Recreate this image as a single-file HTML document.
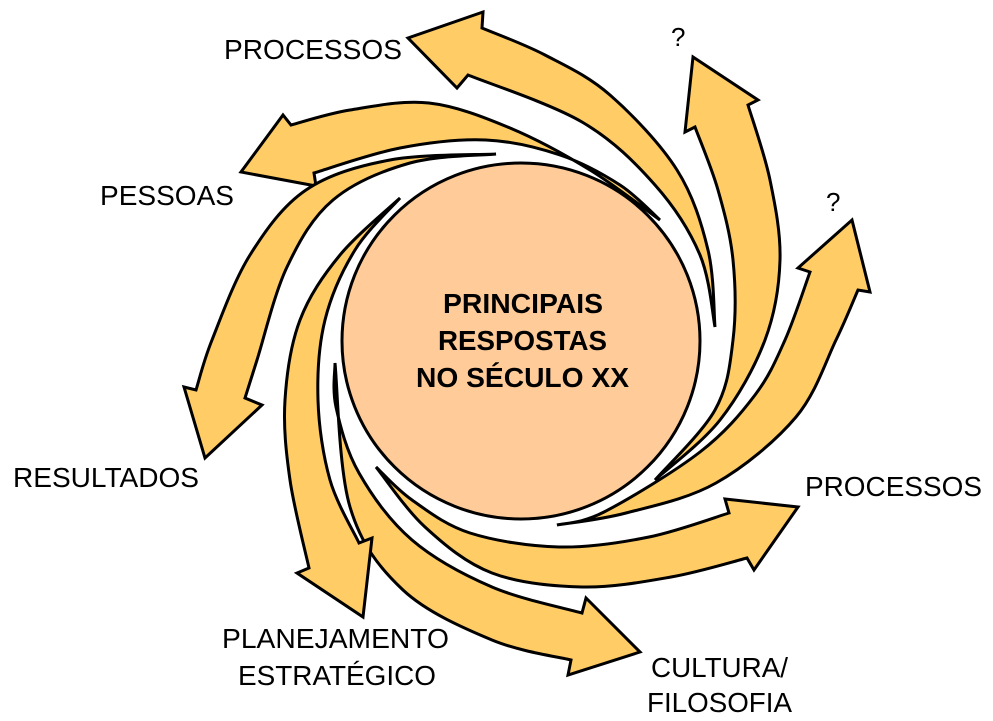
<!DOCTYPE html>
<html><head><meta charset="utf-8"><style>
html,body{margin:0;padding:0;background:#fff;}
svg{display:block}
text{font-family:"Liberation Sans",Arial,sans-serif;fill:#000}
</style></head><body>
<svg id="s" width="993" height="721" viewBox="0 0 993 721" xmlns="http://www.w3.org/2000/svg">
<g id="arrows" fill="#FFCC66" stroke="#000" stroke-width="3" stroke-linejoin="miter"></g>
<ellipse cx="521" cy="341" rx="179" ry="178" fill="#FFCC99" stroke="#000" stroke-width="3"/>
<g font-weight="bold" font-size="28">
<text x="443" y="313" textLength="160" lengthAdjust="spacingAndGlyphs">PRINCIPAIS</text>
<text x="438" y="350" textLength="169" lengthAdjust="spacingAndGlyphs">RESPOSTAS</text>
<text x="416" y="387" textLength="213" lengthAdjust="spacingAndGlyphs">NO SÉCULO XX</text>
</g>
<g font-size="28">
<text x="224" y="59" textLength="178" lengthAdjust="spacingAndGlyphs">PROCESSOS</text>
<text x="671" y="46" font-size="26">?</text>
<text x="100" y="205" textLength="134" lengthAdjust="spacingAndGlyphs">PESSOAS</text>
<text x="826" y="211" font-size="26">?</text>
<text x="13" y="487" textLength="186" lengthAdjust="spacingAndGlyphs">RESULTADOS</text>
<text x="805" y="496" textLength="177" lengthAdjust="spacingAndGlyphs">PROCESSOS</text>
<text x="222" y="648" textLength="227" lengthAdjust="spacingAndGlyphs">PLANEJAMENTO</text>
<text x="238" y="685" textLength="198" lengthAdjust="spacingAndGlyphs">ESTRATÉGICO</text>
<text x="651" y="677" textLength="137" lengthAdjust="spacingAndGlyphs">CULTURA/</text>
<text x="647" y="712" textLength="145" lengthAdjust="spacingAndGlyphs">FILOSOFIA</text>
</g>
</svg>
<script>
function cr(pts){
  let d="";
  for(let i=0;i<pts.length-1;i++){
    const p0=pts[i-1]||pts[i],p1=pts[i],p2=pts[i+1],p3=pts[i+2]||pts[i+1];
    const c1=[p1[0]+(p2[0]-p0[0])/6,p1[1]+(p2[1]-p0[1])/6];
    const c2=[p2[0]-(p3[0]-p1[0])/6,p2[1]-(p3[1]-p1[1])/6];
    d+=` C${c1[0].toFixed(1)},${c1[1].toFixed(1)} ${c2[0].toFixed(1)},${c2[1].toFixed(1)} ${p2[0]},${p2[1]}`;
  }
  return d;
}
const arrows=[
 {a:[[660,220],[590,170],[510,128],[429,103],[350,110],[291,125]], h:[[283,115],[241,172],[316,186]], b:[[314,173],[400,148],[486,140],[560,155],[620,185],[660,220]]},
 {a:[[715,327],[708,250],[677,170],[610,95],[545,55],[482,28]], h:[[483,12],[408,38],[457,88]], b:[[468,75],[582,122],[655,185],[700,255],[715,327]]},
 {a:[[655,480],[715,410],[733,340],[733,260],[718,190],[695,127]], h:[[685,132],[693,57],[758,100]], b:[[748,105],[770,180],[780,260],[765,340],[720,420],[655,480]]},
 {a:[[557,525],[626,513],[716,483],[796,417],[836,340],[858,290]], h:[[870,292],[852,220],[798,268]], b:[[810,272],[785,340],[755,395],[700,452],[604,512],[557,525]]},
 {a:[[376,467],[412,500],[470,533],[559,547],[649,537],[729,513]], h:[[725,499],[798,507],[754,570]], b:[[747,558],[671,577],[582,587],[492,573],[425,527],[376,467]]},
 {a:[[335,363],[336,407],[359,473],[412,540],[492,587],[582,613]], h:[[586,598],[640,652],[568,675]], b:[[571,660],[492,640],[403,590],[350,507],[335,363]]},
 {a:[[400,198],[355,250],[325,320],[318,400],[330,480],[359,543]], h:[[372,538],[363,617],[297,573]], b:[[309,568],[290,480],[285,400],[300,320],[340,255],[400,198]]},
 {a:[[496,154],[410,163],[333,200],[287,267],[257,360],[245,398]], h:[[262,405],[205,458],[184,387]], b:[[196,390],[212,340],[250,255],[306,190],[390,160],[496,154]]}
];
const g=document.getElementById("arrows");
for(const ar of arrows){
  let d="M"+ar.a[0][0]+","+ar.a[0][1]+cr(ar.a);
  for(const p of ar.h) d+=" L"+p[0]+","+p[1];
  d+=" L"+ar.b[0][0]+","+ar.b[0][1]+cr(ar.b)+" Z";
  const p=document.createElementNS("http://www.w3.org/2000/svg","path");
  p.setAttribute("d",d);
  g.appendChild(p);
}
</script>
</body></html>
